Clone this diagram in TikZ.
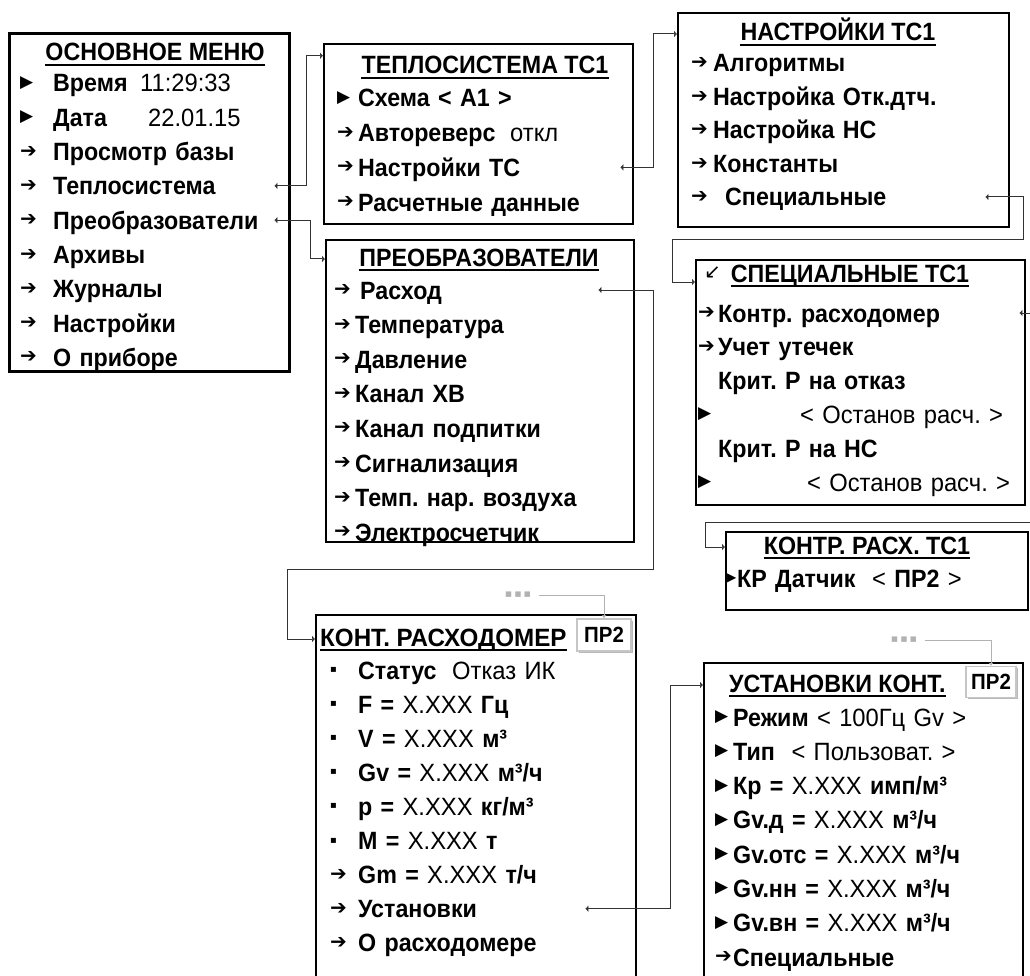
\documentclass[tikz,border=0pt]{standalone}
\usepackage{fontspec}
\setmainfont[UprightFeatures={FakeStretch=0.95}, BoldFeatures={FakeStretch=0.93}]{Liberation Sans}
\newfontfamily\symfont{DejaVu Sans}
\usetikzlibrary{arrows.meta, shadows}

\newcommand\mtri{{\fontsize{17}{17}\selectfont ▶}}
\newcommand\marr{{\fontsize{20}{20}\selectfont ➔}}
\newcommand\mdot{{\fontsize{10}{12}\selectfont ▪}}
\newcommand\rg[1]{{\mdseries #1}}
\frenchspacing

\begin{document}
\begin{tikzpicture}[
  x=1pt, y=-1pt,
  every node/.style={inner sep=0pt},
  box/.style={draw, line width=1.8pt, anchor=north west},
  mainbox/.style={box, line width=2.8pt},
  title/.style={anchor=base, text height=18pt, text depth=4pt, font=\fontsize{25}{30}\selectfont\bfseries,
    append after command={(\tikzlastnode.south west) edge[draw, line width=1.5pt] (\tikzlastnode.south east)}},
  item/.style={anchor=west, text width=#1, align=left, text height=18pt, text depth=0pt, font=\fontsize{25}{30}\selectfont\bfseries},
  item/.default=300pt,
  bullet/.style={anchor=west, font=\symfont},
  badge/.style={draw=gray!45, line width=1.5pt, fill=white, minimum width=54, minimum height=32,
    font=\fontsize{22}{26}\selectfont\bfseries, drop shadow={shadow xshift=1.5pt, shadow yshift=-1.5pt, fill=gray!55, opacity=1}},
  dots/.style={text=gray!60, font=\fontsize{11}{12}\symfont},
  link/.style={{Latex[length=3pt,width=7pt]}-{Latex[length=3pt,width=7pt]}, line width=1pt, black!80},
  greylink/.style={-{Latex[length=3pt,width=5pt]}, line width=1pt, gray!60}
]
\useasboundingbox (0,0) rectangle (1030,976);
\clip (0,0) rectangle (1030,976);

% Main menu
\node[mainbox, minimum width=280, minimum height=338] (menu) at (8,32) {};
\node[title] (menu-t) at (155,61) {ОСНОВНОЕ МЕНЮ};
\foreach \m/\t [count=\i] in {\mtri/{\makebox[87pt][l]{Время}\rg{11:29:33}}, \mtri/{\makebox[95pt][l]{Дата}\rg{22.01.15}},
    \marr/{Просмотр базы}, \marr/{Теплосистема}, \marr/{Преобразователи}, \marr/{Архивы},
    \marr/{Журналы}, \marr/{Настройки}, \marr/{О приборе}} {
  \node[bullet] (menu-m\i) at (20,{83+34.3*(\i-1)}) {\m};
  \node[item=221pt] (menu\i) at (53,{83+34.3*(\i-1)}) {\t};
}

% Heat system
\node[box, minimum width=309, minimum height=180] (tsys) at (323,43) {};
\node[title] (tsys-t) at (485,74) {ТЕПЛОСИСТЕМА ТС1};
\foreach \m/\t [count=\i] in {\mtri/{Схема < А1 >}, \marr/{\makebox[152pt][l]{Автореверс}\rg{откл}},
    \marr/{Настройки ТС}, \marr/{Расчетные данные}} {
  \node[bullet] (tsys-m\i) at (337,{98+34.7*(\i-1)}) {\m};
  \node[item=262pt] (tsys\i) at (358,{98+34.7*(\i-1)}) {\t};
}

% Heat system settings
\node[box, minimum width=331, minimum height=214] (tsset) at (677,12) {};
\node[title] (tsset-t) at (838,41) {НАСТРОЙКИ ТС1};
\foreach \m/\t [count=\i] in {\marr/{Алгоритмы}, \marr/{Настройка Отк.дтч.}, \marr/{Настройка НС},
    \marr/{Константы}, \marr/{\hspace{12pt}Специальные}} {
  \node[bullet] (tsset-m\i) at (691,{63+33.5*(\i-1)}) {\m};
  \node[item=272pt] (tsset\i) at (713,{63+33.5*(\i-1)}) {\t};
}

% Converters
\node[box, minimum width=308, minimum height=302] (conv) at (325,239) {};
\node[title] (conv-t) at (479,266) {ПРЕОБРАЗОВАТЕЛИ};
\foreach \m/\t [count=\i] in {\marr/{\hspace{5pt}Расход}, \marr/{Температура}, \marr/{Давление}, \marr/{Канал ХВ},
    \marr/{Канал подпитки}, \marr/{Сигнализация}, \marr/{Темп. нар. воздуха}, \marr/{Электросчетчик}} {
  \node[bullet] (conv-m\i) at (334,{290+34.6*(\i-1)}) {\m};
  \node[item=243pt] (conv\i) at (355,{290+34.6*(\i-1)}) {\t};
}

% Special settings
\node[box, minimum width=329, minimum height=245] (spec) at (695,259) {};
\node[bullet, font=\fontsize{20}{22}\symfont] (spec-g) at (704,273) {↙};
\node[title] (spec-t) at (850,282) {СПЕЦИАЛЬНЫЕ ТС1};
\foreach \m/\t [count=\i] in {\marr/{Контр. расходомер}, \marr/{Учет утечек}, {}/{Крит. Р на отказ},
    \mtri/{\hspace{82pt}\rg{< Останов расч. >}}, {}/{Крит. Р на НС}, \mtri/{\hspace{89pt}\rg{< Останов расч. >}}} {
  \node[bullet] (spec-m\i) at (698,{313+33.8*(\i-1)}) {\m};
  \node[item=301pt] (spec\i) at (718,{313+33.8*(\i-1)}) {\t};
}

% Flow meter check
\node[box, minimum width=302, minimum height=78] (kr) at (725,531) {};
\node[title] (kr-t) at (867,554) {КОНТР. РАСХ. ТС1};
\node[bullet, font=\fontsize{12}{12}\symfont] (kr-m1) at (727,578) {▶};
\node[item] (kr1) at (737,578) {\makebox[135pt][l]{КР Датчик}\rg{<} ПР2 \rg{>}};

% Control flow meter
\node[box, minimum width=320, minimum height=400] (flow) at (315,614) {};
\node[title, anchor=base west] (flow-t) at (320,646) {\scalebox{1.04}[1]{КОНТ. РАСХОДОМЕР}};
\node[badge] (flow-badge) at (604,635) {ПР2};
\foreach \m/\t [count=\i] in {\mdot/{\makebox[94pt][l]{Статус}\rg{Отказ ИК}}, \mdot/{F = \rg{X.XXX} Гц},
    \mdot/{V = \rg{X.XXX} м³}, \mdot/{Gv = \rg{X.XXX} м³/ч}, \mdot/{p = \rg{X.XXX} кг/м³},
    \mdot/{M = \rg{X.XXX} т}, \marr/{Gm = \rg{X.XXX} т/ч}, \marr/{Установки}, \marr/{О расходомере}} {
  \node[bullet] (flow-m\i) at (330,{670+34.1*(\i-1)}) {\m};
  \node[item=227pt] (flow\i) at (358,{670+34.1*(\i-1)}) {\t};
}

% Control settings
\node[box, minimum width=319, minimum height=400] (set) at (703,662) {};
\node[title, anchor=base west] (set-t) at (729,692) {УСТАНОВКИ КОНТ.};
\node[badge, minimum width=50, minimum height=31] (set-badge) at (991,682) {ПР2};
\foreach \m/\t [count=\i] in {\mtri/{Режим \rg{< 100Гц Gv >}}, \mtri/{Тип\ \ \rg{< Пользоват. >}},
    \mtri/{Кр = \rg{X.XXX} имп/м³}, \mtri/{Gv.д = \rg{X.XXX} м³/ч}, \mtri/{Gv.отс = \rg{X.XXX} м³/ч},
    \mtri/{Gv.нн = \rg{X.XXX} м³/ч}, \mtri/{Gv.вн = \rg{X.XXX} м³/ч}, \marr/{Специальные}} {
  \node[bullet] (set-m\i) at (715,{717+34.3*(\i-1)}) {\m};
  \node[item] (set\i) at (733,{717+34.3*(\i-1)}) {\t};
}

% Ellipsis markers
\node[dots] (flow-dots) at (518,595) {▪\,▪\,▪};
\node[dots] (set-dots) at (904,640) {▪\,▪\,▪};

% Connections
\draw[link] (menu4.east) -- ++(32,0) |- (tsys-t.north -| tsys.west);
\draw[link] (menu5.east) -- ++(36,0) |- (conv-t -| conv.west);
\draw[link] (tsys3.east) -- ++(33,0) |- (tsset-t -| tsset.west);
\draw[link] (tsset5.east) -- ++(38,0) |- ++(-351,43) |- (spec-t.base -| spec.west);
\draw[link] (conv1.east) -- ++(55,0) |- ++(-366,279) |- (flow-t -| flow.west);
\draw[link] (spec1.east) -- ++(30,0) |- ++(-344,209) |- (kr-t -| kr.west);
\draw[link] (flow8.east) -- ++(85,0) |- (set-t -| set.west);
\draw[greylink] ([xshift=8pt]flow-dots.east) -| (flow-badge.north);
\draw[greylink] ([xshift=8pt]set-dots.east) -| (set-badge.north);

\end{tikzpicture}
\end{document}
